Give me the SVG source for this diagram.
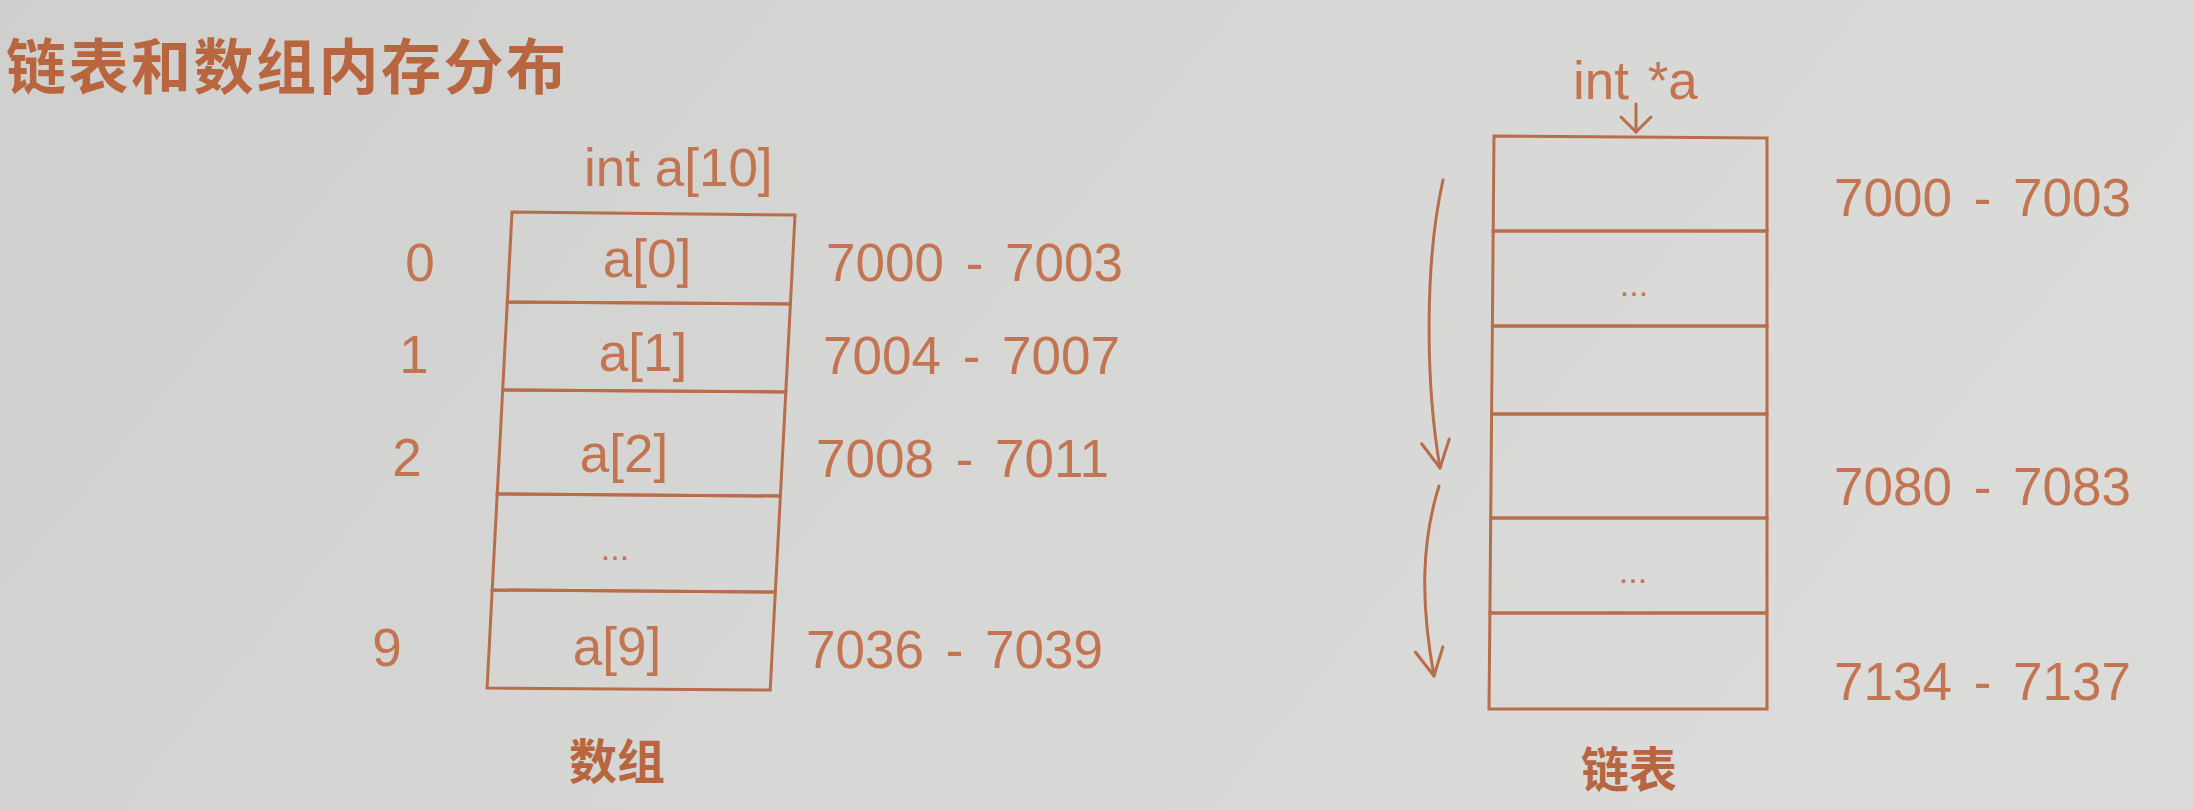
<svg xmlns="http://www.w3.org/2000/svg" width="2193" height="810" viewBox="0 0 2193 810">
  <defs>
    <linearGradient id="bg" x1="0" y1="0" x2="1" y2="0.3">
      <stop offset="0" stop-color="#cfcfcd"/>
      <stop offset="0.5" stop-color="#d6d6d4"/>
      <stop offset="1" stop-color="#dbdbd9"/>
    </linearGradient>
    <marker id="chev" viewBox="-30 -16 34 32" markerWidth="34" markerHeight="32" refX="0" refY="0" orient="auto" markerUnits="userSpaceOnUse" overflow="visible">
      <path d="M-27,-14 L0,0 L-27,14" fill="none" stroke="#b86d4b" stroke-width="3" stroke-linecap="round" stroke-linejoin="round"/>
    </marker>
    <marker id="chevS" viewBox="-18 -18 22 36" markerWidth="22" markerHeight="36" refX="0" refY="0" orient="auto" markerUnits="userSpaceOnUse" overflow="visible">
      <path d="M-15,-15 L0,0 L-15,15" fill="none" stroke="#b86d4b" stroke-width="3" stroke-linecap="round" stroke-linejoin="round"/>
    </marker>
  </defs>
  <style>
    .cell { fill: none; stroke: #b86d4b; stroke-width: 3; stroke-linejoin: miter; }
    .t { font-family: "Liberation Sans", Arial, sans-serif; fill: #c27550; font-size: 53px; }
    .mid { text-anchor: middle; }
    .addr { word-spacing: 7px; }
    .dots { font-family: "Liberation Sans", Arial, sans-serif; fill: #c27550; font-size: 34px; text-anchor: middle; }
    .cjk { font-family: "Noto Sans CJK SC", "Liberation Sans", sans-serif; font-weight: bold; fill: #b8663f; }
    .conn { fill: none; stroke: #b86d4b; stroke-width: 3; stroke-linecap: round; }
  </style>

  <rect x="0" y="0" width="2193" height="810" fill="url(#bg)"/>

  <g id="title">
    <text class="cjk" x="6" y="89" font-size="60" letter-spacing="2.5">链表和数组内存分布</text>
  </g>

  <!-- Array -->
  <g id="array-label">
    <text class="t" x="584" y="186">int a[10]</text>
  </g>
  <g id="arr-cell-0">
    <polygon class="cell" points="512,212 795,215 790.4,304 507.3,302"/>
    <text class="t mid" x="647" y="277">a[0]</text>
    <text class="t mid" x="420" y="281">0</text>
    <text class="t addr" x="826" y="281">7000 - 7003</text>
  </g>
  <g id="arr-cell-1">
    <polygon class="cell" points="507.3,302 790.4,304 785.8,392 502.7,390"/>
    <text class="t mid" x="643" y="371">a[1]</text>
    <text class="t mid" x="414" y="373">1</text>
    <text class="t addr" x="823" y="374">7004 - 7007</text>
  </g>
  <g id="arr-cell-2">
    <polygon class="cell" points="502.7,390 785.8,392 780.4,496 497.2,494"/>
    <text class="t mid" x="624" y="472">a[2]</text>
    <text class="t mid" x="407" y="476">2</text>
    <text class="t addr" x="816" y="477">7008 - 7011</text>
  </g>
  <g id="arr-cell-3">
    <polygon class="cell" points="497.2,494 780.4,496 775.3,592 492.2,590"/>
    <text class="dots" x="615" y="560">...</text>
  </g>
  <g id="arr-cell-9">
    <polygon class="cell" points="492.2,590 775.3,592 770.2,690 487.1,688"/>
    <text class="t mid" x="617" y="665">a[9]</text>
    <text class="t mid" x="387" y="666">9</text>
    <text class="t addr" x="806" y="668">7036 - 7039</text>
  </g>
  <g id="array-caption">
    <text class="cjk" x="617" y="779" font-size="48" text-anchor="middle">数组</text>
  </g>

  <!-- Linked list -->
  <g id="list-label">
    <text class="t" x="1573" y="99" word-spacing="4">int *a</text>
  </g>
  <g id="list-cell-0">
    <polygon class="cell" points="1494,136 1767,138 1767,231 1493.2,231"/>
    <text class="t addr" x="1834" y="216">7000 - 7003</text>
  </g>
  <g id="list-cell-1">
    <polygon class="cell" points="1493.2,231 1767,231 1767,326 1492.4,326"/>
    <text class="dots" x="1634" y="296">...</text>
  </g>
  <g id="list-cell-2">
    <polygon class="cell" points="1492.4,326 1767,326 1767,414 1491.6,414"/>
  </g>
  <g id="list-cell-3">
    <polygon class="cell" points="1491.6,414 1767,414 1767,518 1490.7,518"/>
    <text class="t addr" x="1834" y="505">7080 - 7083</text>
  </g>
  <g id="list-cell-4">
    <polygon class="cell" points="1490.7,518 1767,518 1767,613 1489.9,613"/>
    <text class="dots" x="1633" y="583">...</text>
  </g>
  <g id="list-cell-5">
    <polygon class="cell" points="1489.9,613 1767,613 1767,709 1489,709"/>
    <text class="t addr" x="1834" y="700">7134 - 7137</text>
  </g>
  <g id="list-caption">
    <text class="cjk" x="1629" y="787" font-size="48" text-anchor="middle">链表</text>
  </g>

  <g id="connectors">
    <path class="conn" d="M1636,104 L1636,132" marker-end="url(#chevS)"/>
    <path class="conn" d="M1443,180 C1425,260 1425,380 1440,468" marker-end="url(#chev)"/>
    <path class="conn" d="M1439,486 C1422,540 1420,600 1434,676" marker-end="url(#chev)"/>
  </g>
</svg>
